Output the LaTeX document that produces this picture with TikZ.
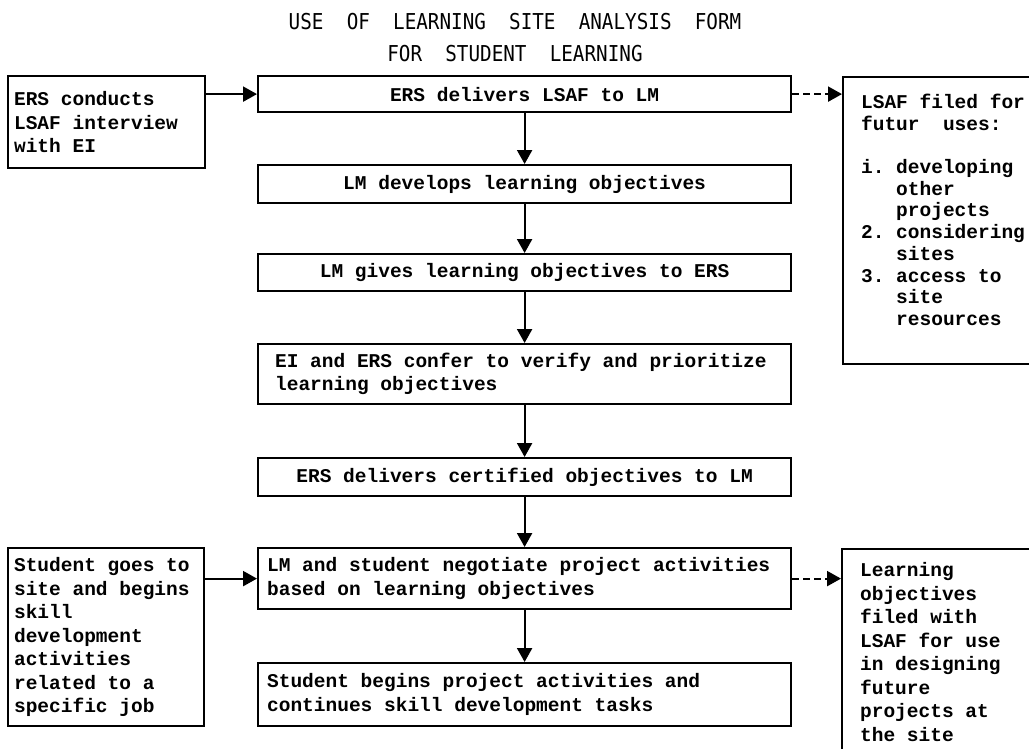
\documentclass[tikz,border=0pt]{standalone}
\usepackage{fontspec}
\newfontfamily\bodyfont{Liberation Mono}
\newfontfamily\titlefont[FakeStretch=0.88]{DejaVu Sans Mono}
\usetikzlibrary{arrows.meta}
\newcommand{\fixspaces}{\spaceskip=0.6em\xspaceskip=0.6em\relax}
\newcommand{\bodytext}[1]{\bodyfont\bfseries\fontsize{19.5}{#1}\selectfont\fixspaces}
\newcommand{\titletext}{\titlefont\fontsize{21.9}{32}\selectfont}
\begin{document}
\begin{tikzpicture}[x=1pt,y=-1pt,
  box/.style={draw, line width=2.2pt, inner sep=0pt, font=\bodytext{23.5}},
  ctr/.style={box, anchor=north west, align=center, minimum width=533pt},
  lft/.style={box, anchor=north west, align=flush left, execute at begin node={\fixspaces}},
  titlestyle/.style={align=center, inner sep=0pt, font=\titletext},
  arr/.style={line width=2.2pt, -{Triangle[length=14pt,width=15pt]}},
  darr/.style={arr, dash pattern=on 7pt off 4pt}]
\useasboundingbox (0,0) rectangle (1029,748);
\clip (0,0) rectangle (1029,748);

\node[titlestyle] (title) at (515,37.5) {USE~~OF~~LEARNING~~SITE~~ANALYSIS~~FORM\\FOR~~STUDENT~~LEARNING};

\node[lft, minimum height=92pt, text width=185pt, inner xsep=6pt] (A) at (7,75) {ERS conducts\\LSAF interview\\with EI};
\node[ctr, minimum height=36pt] (B) at (257,75) {ERS delivers LSAF to LM};
\node[lft, minimum height=287pt, text width=202pt, inner xsep=18pt,
      font=\bodytext{21.7}] (C) at (842,76)
  {LSAF filed for\\futur~ uses:\\~\\i. developing\\\phantom{i.~}other\\\phantom{i.~}projects\\2. considering\\\phantom{2.~}sites\\3. access to\\\phantom{3.~}site\\\phantom{3.~}resources\\~};
\node[ctr, minimum height=38pt] (D) at (257,164) {LM develops learning objectives};
\node[ctr, minimum height=37pt] (E) at (257,253) {LM gives learning objectives to ERS};
\node[lft, minimum height=60pt, text width=499pt, inner xsep=17pt] (F) at (257,343) {EI and ERS confer to verify and prioritize\\learning objectives};
\node[ctr, minimum height=38pt] (G) at (257,457) {ERS delivers certified objectives to LM};
\node[lft, minimum height=61pt, text width=515pt, inner xsep=9pt] (H) at (257,547) {LM and student negotiate project activities\\based on learning objectives};
\node[lft, minimum height=63pt, text width=515pt, inner xsep=9pt] (I) at (257,662) {Student begins project activities and\\continues skill development tasks};
\node[lft, minimum height=178pt, text width=184pt, inner xsep=6pt] (J) at (7,547) {Student goes to\\site and begins\\skill\\development\\activities\\related to a\\specific job};
\node[lft, minimum height=206pt, text width=202pt, inner xsep=18pt] (K) at (841,548) {Learning\\objectives\\filed with\\LSAF for use\\in designing\\future\\projects at\\the site};

\draw[arr] (A.east |- B.west) -- (B.west);
\draw[darr] (B.east) -- (C.west |- B.east);
\foreach \a/\b in {B/D,D/E,E/F,F/G,G/H,H/I} \draw[arr] (\a.south) -- (\b.north);
\draw[arr] (J.east |- H.west) -- (H.west);
\draw[darr] (H.east) -- (K.west |- H.east);
\end{tikzpicture}
\end{document}
